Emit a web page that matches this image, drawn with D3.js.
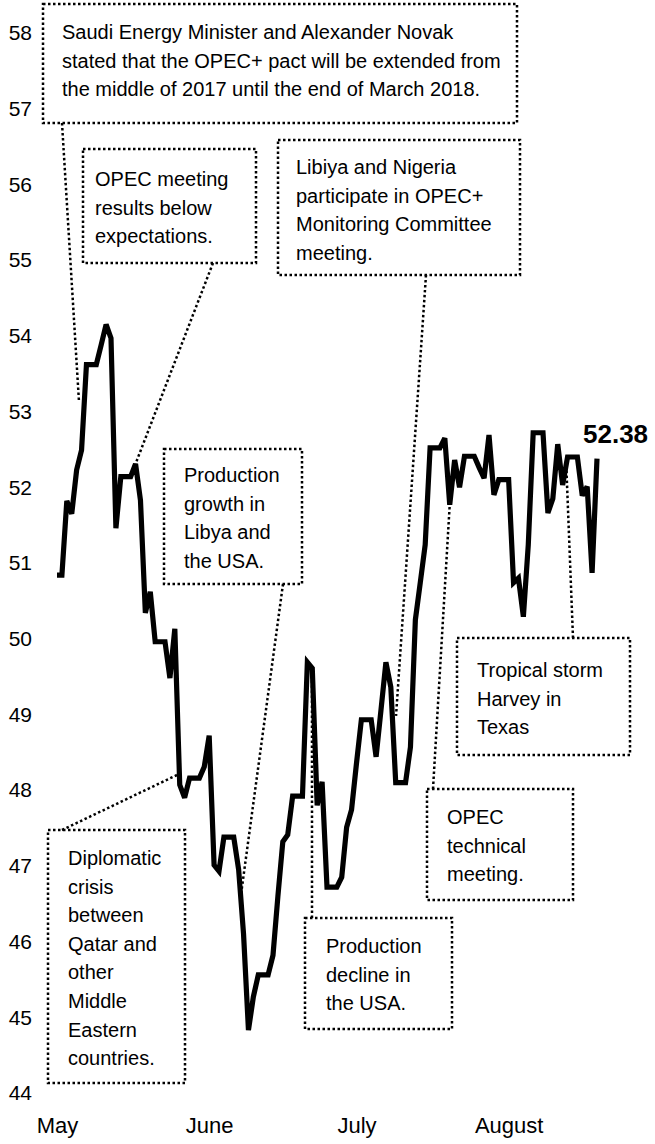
<!DOCTYPE html>
<html>
<head>
<meta charset="utf-8">
<script src="https://cdn.jsdelivr.net/npm/d3@7"></script>
<style>
  html, body { margin: 0; padding: 0; background: #fff; }
  svg { display: block; font-family: "Liberation Sans", Arial, sans-serif; }
</style>
</head>
<body>
<svg id="chart" width="655" height="1144"></svg>
<script>
// ---- data (daily, index = days since 1 May) ----
const prices = [
  50.84, 50.84, 51.82, 51.65, 52.23, 52.49, 53.62, 53.62, 53.62, 53.88,
  54.15, 53.97, 51.46, 52.14, 52.14, 52.14, 52.31, 51.83, 50.34, 50.62,
  49.96, 49.96, 49.96, 49.48, 50.13, 48.07, 47.90, 48.16, 48.16, 48.16,
  48.31, 48.72, 47.01, 46.93, 47.38, 47.38, 47.38, 46.95, 46.10, 44.83,
  45.27, 45.56, 45.56, 45.56, 45.82, 46.60, 47.32, 47.41, 47.92, 47.92,
  47.92, 49.69, 49.61, 47.80, 48.11, 46.72, 46.72, 46.72, 46.85, 47.51,
  47.74, 48.35, 48.93, 48.93, 48.93, 48.44, 49.06, 49.69, 49.36, 48.10,
  48.10, 48.10, 48.57, 50.25, 50.74, 51.24, 52.52, 52.52, 52.52, 52.65,
  51.77, 52.36, 52.00, 52.41, 52.41, 52.41, 52.26, 52.12, 52.69, 51.90,
  52.10, 52.10, 52.10, 50.74, 50.80, 50.29, 51.24, 52.72, 52.72, 52.72,
  51.66, 51.85, 52.57, 52.03, 52.40, 52.40, 52.40, 51.89, 52.01, 50.87,
  52.38
];
const monthTickDays = [0, 31, 61, 92];
const monthLabels = ["May", "June", "July", "August"];
const yTicks = [44, 45, 46, 47, 48, 49, 50, 51, 52, 53, 54, 55, 56, 57, 58];
const lastLabel = "52.38";

const annotationTexts = [
  ["Saudi Energy Minister and Alexander Novak", "stated that the OPEC+ pact will be extended from", "the middle of 2017 until the end of March 2018."],
  ["OPEC meeting", "results below", "expectations."],
  ["Libiya and Nigeria", "participate in OPEC+", "Monitoring Committee", "meeting."],
  ["Production", "growth in", "Libya and", "the USA."],
  ["Diplomatic", "crisis", "between", "Qatar and", "other", "Middle", "Eastern", "countries."],
  ["Production", "decline in", "the USA."],
  ["OPEC", "technical", "meeting."],
  ["Tropical storm", "Harvey in", "Texas"]
];
// leader targets on the series, in data units
const annotationTargets = [
  {day: 4.48, value: 53.13},
  {day: 16,   value: 52.31},
  {day: 69.06, value: 48.98},
  {day: 37.48, value: 46.62},
  {day: 24.44, value: 48.20},
  {day: 51.94, value: 49.61},
  {day: 80,   value: 51.77},
  {day: 103.7, value: 52.36}
];

// ---- layout (pixels) ----
const boxLayout = [
  {x0: 43,  y0: 4,   x1: 517, y1: 123,  tx: 62,  ty: 39,  ax: 62,  ay: 123},
  {x0: 83,  y0: 149, x1: 256, y1: 263,  tx: 95,  ty: 186, ax: 213, ay: 263},
  {x0: 278, y0: 140, x1: 520, y1: 275,  tx: 296, ty: 174, ax: 426, ay: 275},
  {x0: 164, y0: 449, x1: 302, y1: 584,  tx: 184, ty: 482, ax: 283, ay: 584},
  {x0: 48,  y0: 830, x1: 185, y1: 1083, tx: 68,  ty: 865, ax: 62,  ay: 830},
  {x0: 305, y0: 918, x1: 452, y1: 1029, tx: 326, ty: 953, ax: 312, ay: 918},
  {x0: 427, y0: 789, x1: 573, y1: 900,  tx: 447, ty: 824, ax: 433, ay: 789},
  {x0: 457, y0: 638, x1: 630, y1: 755,  tx: 477, ty: 677, ax: 573, ay: 638}
];
const lineHeight = 28.6;

const svg = d3.select("#chart");

const x = d3.scaleLinear().domain([0, prices.length - 1]).range([57, 597]);
const y = d3.scaleLinear().domain([44, 58]).range([1093, 33]);

// y axis
const yAxis = d3.axisLeft(y).tickValues(yTicks).tickSize(0).tickPadding(0).tickFormat(d3.format("d"));
const gy = svg.append("g").attr("transform", "translate(32,0)").call(yAxis);
gy.select(".domain").remove();
gy.selectAll("text").attr("font-size", 21).attr("fill", "#000").attr("font-family", "Liberation Sans, Arial, sans-serif");

// x axis
const xAxis = d3.axisBottom(x).tickValues(monthTickDays).tickSize(0).tickPadding(0)
  .tickFormat((d, i) => monthLabels[i]);
const gx = svg.append("g").attr("transform", "translate(0,1117)").call(xAxis);
gx.select(".domain").remove();
gx.selectAll("text").attr("font-size", 22).attr("fill", "#000").attr("font-family", "Liberation Sans, Arial, sans-serif");

// annotation boxes and leaders
const ann = svg.append("g");
boxLayout.forEach((b, i) => {
  const t = annotationTargets[i];
  ann.append("line")
    .attr("x1", b.ax).attr("y1", b.ay)
    .attr("x2", x(t.day)).attr("y2", y(t.value))
    .attr("stroke", "#000").attr("stroke-width", 2.5)
    .attr("stroke-dasharray", "2.5 2.5");
  ann.append("rect")
    .attr("x", b.x0).attr("y", b.y0)
    .attr("width", b.x1 - b.x0).attr("height", b.y1 - b.y0)
    .attr("fill", "none")
    .attr("stroke", "#000").attr("stroke-width", 2.5)
    .attr("stroke-dasharray", "2.5 2.5");
  const txt = ann.append("text")
    .attr("font-size", 20).attr("fill", "#000");
  annotationTexts[i].forEach((ln, j) => {
    txt.append("tspan").attr("x", b.tx).attr("y", b.ty + j * lineHeight).text(ln);
  });
});

// price line
const line = d3.line().x((d, i) => x(i)).y(d => y(d));
svg.append("path")
  .datum(prices)
  .attr("d", line)
  .attr("fill", "none")
  .attr("stroke", "#000")
  .attr("stroke-width", 5.2)
  .attr("stroke-linejoin", "miter")
  .attr("stroke-miterlimit", 3);

// last value label
const lastIdx = prices.length - 1;
svg.append("text")
  .attr("x", x(lastIdx) - 14)
  .attr("y", y(prices[lastIdx]) - 16)
  .attr("font-size", 26)
  .attr("font-weight", "bold")
  .attr("fill", "#000")
  .text(lastLabel);
</script>
</body>
</html>
